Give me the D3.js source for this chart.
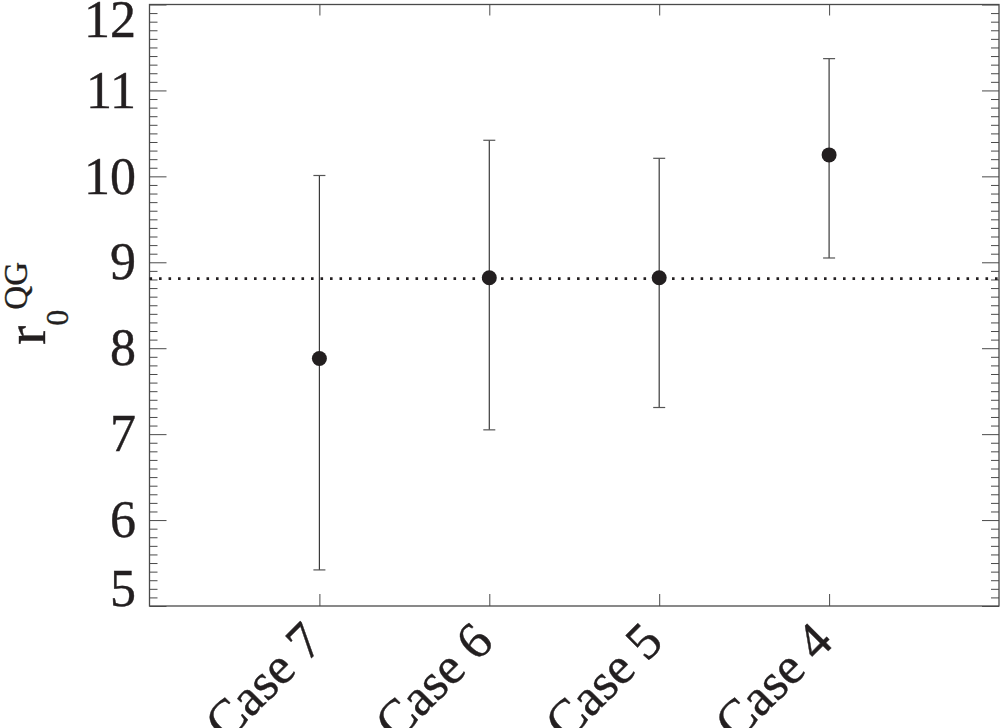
<!DOCTYPE html>
<html>
<head>
<meta charset="utf-8">
<script src="https://cdn.jsdelivr.net/npm/d3@7/dist/d3.min.js"></script>
<style>
  html, body { margin: 0; padding: 0; background: #fff; }
  svg { display: block; }
</style>
</head>
<body>
<svg id="chart" width="1000" height="728"></svg>
<script>
// ---- data ----
const categories = ["Case 7", "Case 6", "Case 5", "Case 4"];
const centers    = [7.88, 8.82, 8.82, 10.25];
const upper      = [10.01, 10.42, 10.21, 11.37];
const lower      = [5.42, 7.05, 7.31, 9.05];
const referenceValue = 8.81;
const yTickValues = [5, 6, 7, 8, 9, 10, 11, 12];
const yDomain = [5, 12];

// ---- layout ----
const L = 149.5, R = 999, T = 4.5, B = 606;
const svg = d3.select("#chart");
const FONT = "'Liberation Serif'";
const TXT = "#231f20";

const x = d3.scaleLinear().domain([0, categories.length + 1]).range([L, R]);
const y = d3.scaleLinear().domain(yDomain).range([B, T]);
const axisColor = "#4a4a4a";

// minor tick values (0.1 steps, excluding integers)
const minorTicks = d3.range(yDomain[0] * 10, yDomain[1] * 10 + 1)
  .filter(d => d % 10 !== 0).map(d => d / 10);

function styleAxis(g) {
  g.select(".domain").remove();
  g.selectAll("line").attr("stroke", axisColor).attr("stroke-width", 1);
  g.selectAll("text").remove();
}

// left axis major + minor (inward)
svg.append("g").attr("transform", `translate(${L},0)`)
  .call(d3.axisLeft(y).tickValues(yTickValues).tickSizeInner(-17).tickSizeOuter(0))
  .call(styleAxis);
svg.append("g").attr("transform", `translate(${L},0)`)
  .call(d3.axisLeft(y).tickValues(minorTicks).tickSizeInner(-8).tickSizeOuter(0))
  .call(styleAxis);
// right axis major + minor (inward)
svg.append("g").attr("transform", `translate(${R},0)`)
  .call(d3.axisRight(y).tickValues(yTickValues).tickSizeInner(-17).tickSizeOuter(0))
  .call(styleAxis);
svg.append("g").attr("transform", `translate(${R},0)`)
  .call(d3.axisRight(y).tickValues(minorTicks).tickSizeInner(-8).tickSizeOuter(0))
  .call(styleAxis);
// bottom and top category ticks (inward)
const catPos = categories.map((c, i) => i + 1);
svg.append("g").attr("transform", `translate(0,${B})`)
  .call(d3.axisBottom(x).tickValues(catPos).tickSizeInner(-12).tickSizeOuter(0))
  .call(styleAxis);
svg.append("g").attr("transform", `translate(0,${T})`)
  .call(d3.axisTop(x).tickValues(catPos).tickSizeInner(-11).tickSizeOuter(0))
  .call(styleAxis);

// frame
svg.append("rect")
  .attr("x", L).attr("y", T).attr("width", R - L).attr("height", B - T)
  .attr("fill", "none").attr("stroke", axisColor).attr("stroke-width", 1.3);

// y tick labels (kept inside the axis extent)
const fs = 52;
svg.append("g").selectAll("text").data(yTickValues).join("text")
  .attr("x", 136)
  .attr("y", d => {
    const c = Math.min(Math.max(y(d), 20), B - 17);
    return c + fs * 0.33;
  })
  .attr("text-anchor", "end")
  .attr("font-size", fs)
  .attr("fill", TXT)
  .attr("stroke", TXT).attr("stroke-width", 0.4)
  .style("font-family", FONT)
  .text(d => d);

// x tick labels rotated
svg.append("g").selectAll("text").data(categories).join("text")
  .attr("transform", (d, i) => `translate(${x(i + 1) + 6},${B + 38}) rotate(-45)`)
  .attr("text-anchor", "end")
  .attr("font-size", fs)
  .attr("fill", TXT)
  .attr("stroke", TXT).attr("stroke-width", 0.4)
  .style("font-family", FONT)
  .text(d => d);

// y axis label r_0^QG
const ylab = svg.append("text")
  .attr("transform", "translate(45,345) rotate(-90)")
  .attr("text-anchor", "start")
  .attr("fill", TXT)
  .attr("stroke", TXT).attr("stroke-width", 0.4)
  .style("font-family", FONT);
ylab.append("tspan").attr("font-size", 58).text("r");
ylab.append("tspan").attr("font-size", 32).attr("dy", 23).text("0");
ylab.append("tspan").attr("font-size", 33).attr("dy", -41).text("QG");

// reference dotted line
svg.append("line")
  .attr("x1", L).attr("x2", R)
  .attr("y1", y(referenceValue)).attr("y2", y(referenceValue))
  .attr("stroke", TXT).attr("stroke-width", 2.6)
  .attr("stroke-dasharray", "2.6,6.9");

// error bars
const eb = svg.append("g");
categories.forEach((c, i) => {
  const cx = x(i + 1);
  eb.append("line").attr("x1", cx).attr("x2", cx)
    .attr("y1", y(lower[i])).attr("y2", y(upper[i]))
    .attr("stroke", "#3a3a3a").attr("stroke-width", 1.2);
  [lower[i], upper[i]].forEach(v => {
    eb.append("line").attr("x1", cx - 6).attr("x2", cx + 6)
      .attr("y1", y(v)).attr("y2", y(v))
      .attr("stroke", "#555").attr("stroke-width", 1.2);
  });
});

// points
svg.append("g").selectAll("circle").data(centers).join("circle")
  .attr("cx", (d, i) => x(i + 1))
  .attr("cy", d => y(d))
  .attr("r", 7.5)
  .attr("fill", TXT);
</script>
</body>
</html>
